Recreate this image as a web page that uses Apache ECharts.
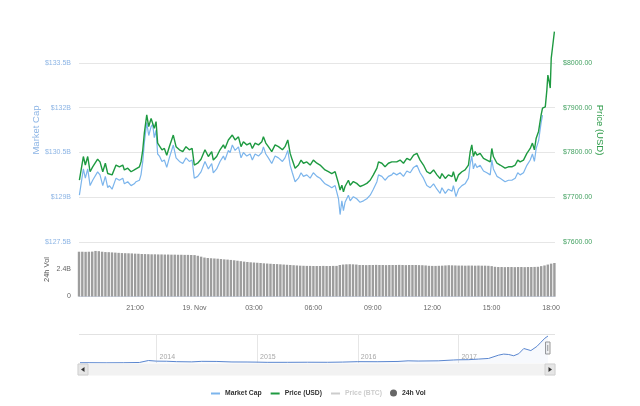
<!DOCTYPE html>
<html><head><meta charset="utf-8">
<script src="https://cdn.jsdelivr.net/npm/echarts@6/dist/echarts.min.js"></script>
<style>html,body{margin:0;padding:0;background:#fff;}#c{width:640px;height:406px;}</style>
</head><body><div id="c"></div>
<script>
// Hours since 18 Nov 00:00 (so 24 = 19 Nov 00:00)
const priceHours = [
18.19,18.39,18.49,18.61,18.73,18.86,18.94,19.11,19.23,19.37,
19.50,19.62,19.70,19.84,20.04,20.21,20.38,20.46,20.63,20.80,
20.96,21.05,21.22,21.30,21.39,21.47,21.59,21.69,21.81,21.89,
21.97,22.06,22.14,22.23,22.36,22.48,22.60,22.73,22.93,23.07,
23.24,23.41,23.57,23.74,23.88,23.99,24.16,24.33,24.53,24.70,
24.87,24.95,25.12,25.29,25.46,25.54,25.71,25.80,25.91,26.05,
26.22,26.35,26.47,26.64,26.81,26.92,27.06,27.23,27.40,27.48,
27.60,27.73,27.90,28.07,28.24,28.44,28.57,28.71,28.83,28.94,
29.08,29.25,29.38,29.50,29.67,29.84,30.00,30.18,30.34,30.43,
30.59,30.76,30.93,31.10,31.19,31.27,31.35,31.44,31.52,31.60,
31.77,31.86,32.02,32.19,32.36,32.53,32.70,32.87,33.03,33.21,
33.29,33.46,33.62,33.79,33.96,34.04,34.21,34.38,34.55,34.72,
34.89,35.06,35.23,35.39,35.56,35.73,35.90,36.07,36.24,36.40,
36.49,36.66,36.82,37.00,37.07,37.20,37.33,37.50,37.66,37.83,
37.92,38.00,38.08,38.17,38.26,38.42,38.59,38.76,38.93,39.01,
39.09,39.27,39.43,39.68,39.85,40.02,40.19,40.32,40.44,40.61,
40.78,40.95,41.06,41.16,41.25,41.37,41.50,41.57,41.71,41.79,
41.84,41.91,41.96,42.01,42.07,42.12,42.17];

const priceUSD = [
7738,7791,7772,7791,7757,7768,7765,7785,7779,7757,
7776,7753,7757,7750,7772,7768,7772,7761,7765,7757,
7761,7765,7768,7779,7806,7844,7884,7858,7876,7880,
7854,7869,7821,7817,7806,7809,7794,7813,7839,7813,
7806,7802,7813,7806,7809,7772,7776,7785,7806,7791,
7802,7783,7791,7806,7817,7809,7828,7824,7839,7828,
7835,7813,7824,7817,7821,7809,7821,7817,7824,7835,
7821,7813,7802,7817,7813,7806,7813,7828,7798,7783,
7765,7772,7783,7776,7779,7772,7783,7776,7772,7768,
7761,7757,7753,7757,7761,7731,7716,7727,7712,7724,
7738,7727,7735,7731,7724,7727,7731,7738,7750,7765,
7779,7776,7768,7776,7779,7783,7779,7783,7776,7787,
7783,7794,7798,7783,7772,7757,7753,7761,7750,7742,
7753,7742,7750,7746,7757,7735,7750,7757,7761,7772,
7802,7817,7791,7802,7794,7798,7787,7783,7779,7809,
7791,7776,7772,7765,7768,7768,7772,7783,7779,7783,
7798,7809,7821,7806,7832,7847,7884,7899,7902,7940,
7973,7958,7944,8011,8033,8029,8070];

// Market cap (billions USD), same timestamps as the first 168 price points
const capBillions = [
129.07,129.95,129.64,129.95,129.39,129.57,129.52,129.85,129.75,129.39,
129.70,129.32,129.39,129.27,129.64,129.57,129.64,129.45,129.52,129.39,
129.45,129.52,129.57,129.75,130.20,130.84,131.50,131.07,131.37,131.44,
131.00,131.25,130.45,130.38,130.20,130.25,130.00,130.32,130.75,130.32,
130.20,130.13,130.32,130.20,130.25,129.64,129.70,129.85,130.20,129.95,
130.13,129.82,129.95,130.20,130.38,130.25,130.57,130.50,130.75,130.57,
130.69,130.32,130.50,130.38,130.45,130.25,130.45,130.38,130.50,130.69,
130.45,130.32,130.13,130.38,130.32,130.20,130.32,130.57,130.07,129.82,
129.52,129.64,129.82,129.70,129.75,129.64,129.82,129.70,129.64,129.57,
129.45,129.39,129.32,129.39,129.45,128.95,128.42,128.88,128.55,128.83,
129.07,128.88,129.02,128.95,128.83,128.88,128.95,129.07,129.27,129.52,
129.75,129.70,129.57,129.70,129.75,129.82,129.75,129.82,129.70,129.88,
129.82,130.00,130.07,129.82,129.64,129.39,129.32,129.45,129.27,129.13,
129.32,129.13,129.27,129.20,129.39,129.02,129.27,129.39,129.45,129.64,
130.13,130.38,129.95,130.13,130.00,130.07,129.88,129.82,129.75,130.25,
129.95,129.70,129.64,129.52,129.57,129.57,129.64,129.82,129.75,129.82,
130.07,130.25,130.45,130.20,130.64,130.89,131.50,131.75];

// 24h volume (billions USD), one bar every 10 minutes
const volStartHour = 18.17;
const volStepHours = 1 / 6;
const volBillions = [
3.98,3.98,3.97,3.98,3.99,4.05,
4.03,3.98,3.95,3.94,3.92,3.90,3.88,3.86,3.85,
3.84,3.83,3.81,3.80,3.78,3.77,3.76,
3.75,3.75,3.74,3.74,3.73,3.73,3.72,3.72,3.71,3.71,3.70,3.70,3.69,3.68,
3.62,3.54,3.46,
3.42,3.40,3.38,3.36,3.33,3.30,3.28,3.25,
3.22,3.18,3.14,3.10,3.07,3.04,
3.02,3.00,2.98,2.95,2.93,2.91,2.89,2.88,2.86,
2.84,2.82,2.80,2.78,2.76,2.74,
2.73,2.72,2.72,2.71,2.71,2.71,2.72,2.71,2.71,2.72,2.72,
2.80,2.84,2.86,2.87,2.86,2.84,
2.80,2.80,2.79,2.80,2.80,2.81,2.80,2.80,2.79,2.80,2.80,2.80,2.81,2.80,2.79,2.80,2.80,2.80,2.79,2.78,2.76,
2.73,2.72,2.72,2.73,2.74,2.76,2.78,2.77,2.76,
2.75,2.75,2.74,2.75,2.75,2.74,2.75,2.74,2.74,2.73,2.70,
2.64,2.62,2.62,2.61,2.62,2.62,2.61,2.62,2.62,2.61,2.62,2.62,2.63,2.64,
2.70,2.76,2.84,2.92,2.98];

// Navigator: market cap history (billions USD) by year
const historyYears = [2013.24,2013.33,2013.5,2013.67,2013.83,2013.92,2014.0,2014.1,2014.2,2014.35,2014.45,2014.6,2014.75,2014.9,2015.0,2015.1,2015.3,2015.5,2015.7,2015.85,2016.0,2016.2,2016.4,2016.5,2016.6,2016.8,2016.95,2017.0,2017.1,2017.2,2017.3,2017.4,2017.45,2017.5,2017.55,2017.6,2017.65,2017.72,2017.78,2017.82,2017.86,2017.87,2017.89];
const historyCapB = [1.4,1.5,1.0,1.4,2.5,12.0,9.0,8.5,6.5,5.5,8.0,7.5,5.0,4.8,4.2,3.2,3.3,3.7,3.4,4.5,6.5,6.2,7.5,10.5,9.5,10.5,14.5,15.5,16.0,19.0,22.0,38.0,43.0,41.0,35.0,45.0,70.0,60.0,80.0,100.0,120.0,112.0,130.0];

const timeTicks = [21,24,27,30,33,36,39,42];
const timeTickLabels = ['21:00','19. Nov','03:00','06:00','09:00','12:00','15:00','18:00'];
const capTicks = [127.5,129,130.5,132,133.5];
const capTickLabels = ['$127.5B','$129B','$130.5B','$132B','$133.5B'];
const priceTicks = [7600,7700,7800,7900,8000];
const priceTickLabels = ['$7600.00','$7700.00','$7800.00','$7900.00','$8000.00'];
const volTicks = [0,2.4];
const volTickLabels = ['0','2.4B'];
const yearTicks = [2014,2015,2016,2017];
const yearTickLabels = ['2014','2015','2016','2017'];

function labelFor(ticks, labels, v) {
  for (let i = 0; i < ticks.length; i++) if (Math.abs(ticks[i] - v) < 1e-6) return labels[i];
  return '';
}

const FONT = '"Liberation Sans", Arial, sans-serif';
const BLUE = '#7cb5ec';
const GREEN = '#1e9a41';
const legendText = {fontSize: 6.8, fontWeight: 'bold', color: '#333', fontFamily: FONT};

const chart = echarts.init(document.getElementById('c'), null, {renderer: 'canvas'});
chart.setOption({
  animation: false,
  backgroundColor: '#ffffff',
  textStyle: {fontFamily: FONT},
  grid: [
    {left: 79, right: 85, top: 30, height: 212},
    {left: 79, right: 85, top: 242.5, height: 54},
    {left: 79, right: 85, top: 334, height: 29}
  ],
  legend: [
    {
      left: 211, top: 390, padding: 0,
      itemGap: 9, itemWidth: 9, itemHeight: 2, icon: 'rect',
      inactiveColor: '#cccccc',
      textStyle: legendText,
      selected: {'Price (BTC)': false},
      data: ['Market Cap', 'Price (USD)', 'Price (BTC)']
    },
    {
      left: 390, top: 389.5, padding: 0,
      itemWidth: 7, itemHeight: 7, icon: 'circle',
      textStyle: legendText,
      data: [{name: '24h Vol', itemStyle: {color: '#666666'}}]
    }
  ],
  xAxis: [
    {gridIndex: 0, type: 'value', min: 18.17, max: 42.2, show: false},
    {gridIndex: 1, type: 'value', min: 18.17, max: 42.2,
      axisLine: {show: true, onZero: false, lineStyle: {color: '#d0d8e8'}},
      axisTick: {show: false, customValues: timeTicks},
      axisLabel: {customValues: timeTicks, fontSize: 7, color: '#666', margin: 8, fontFamily: FONT,
        formatter: v => labelFor(timeTicks, timeTickLabels, v)},
      splitLine: {show: false}},
    {gridIndex: 2, type: 'value', min: 2013.23, max: 2017.96,
      axisLine: {show: false},
      axisTick: {show: false, customValues: yearTicks},
      axisLabel: {customValues: yearTicks, inside: true, align: 'left', margin: 2, padding: [0, 0, 0, 3],
        fontSize: 7, color: '#a8a8a8', fontFamily: FONT,
        formatter: v => labelFor(yearTicks, yearTickLabels, v)},
      splitLine: {show: true, lineStyle: {color: '#e6e6e6'}}}
  ],
  yAxis: [
    {gridIndex: 0, type: 'value', position: 'left', min: 127.5, max: 134.606, interval: 1.5,
      name: 'Market Cap', nameLocation: 'middle', nameGap: 38, nameRotate: 90, nameMoveOverlap: false,
      nameTextStyle: {color: '#8db5e5', fontSize: 9.5, fontFamily: FONT, padding: [0, 0, 0, 12]},
      axisLine: {show: false}, axisTick: {show: false},
      axisLabel: {color: '#8db5e5', fontSize: 7, margin: 8, showMaxLabel: false, padding: [0, 0, 9, 0], fontFamily: FONT,
        formatter: v => labelFor(capTicks, capTickLabels, v)},
      splitLine: {show: true, showMaxLine: false, lineStyle: {color: '#e6e6e6'}}},
    {gridIndex: 0, type: 'value', position: 'right', min: 7600, max: 8073.7, interval: 100,
      name: 'Price (USD)', nameLocation: 'middle', nameGap: 40, nameRotate: -90, nameMoveOverlap: false,
      nameTextStyle: {color: '#2e9b4a', fontSize: 9.5, fontFamily: FONT, padding: [0, 12, 0, 0]},
      axisLine: {show: false}, axisTick: {show: false},
      axisLabel: {color: '#44a262', fontSize: 7, margin: 8, showMaxLabel: false, padding: [0, 0, 9, 0], fontFamily: FONT,
        formatter: v => labelFor(priceTicks, priceTickLabels, v)},
      splitLine: {show: false}},
    {gridIndex: 1, type: 'value', position: 'left', min: 0, max: 4.8, interval: 2.4,
      name: '24h Vol', nameLocation: 'middle', nameGap: 28, nameRotate: 90, nameMoveOverlap: false,
      nameTextStyle: {color: '#555', fontSize: 7.5, fontFamily: FONT},
      axisLine: {show: false}, axisTick: {show: false},
      axisLabel: {color: '#666', fontSize: 7, margin: 8, showMaxLabel: false, padding: [0, 0, 9, 0], fontFamily: FONT,
        formatter: v => labelFor(volTicks, volTickLabels, v)},
      splitLine: {show: false}},
    {gridIndex: 2, type: 'value', min: 0, max: 140, interval: 140,
      axisLine: {show: false}, axisTick: {show: false}, axisLabel: {show: false},
      splitLine: {show: true, showMinLine: false, lineStyle: {color: '#e2e2e2'}}}
  ],
  series: [
    {name: 'Market Cap', type: 'line', xAxisIndex: 0, yAxisIndex: 0, symbol: 'none', z: 2,
      data: capBillions.map((v, i) => [priceHours[i], v]),
      lineStyle: {color: BLUE, width: 1.2}, itemStyle: {color: BLUE}},
    {name: 'Price (USD)', type: 'line', xAxisIndex: 0, yAxisIndex: 1, symbol: 'none', z: 3,
      data: priceUSD.map((v, i) => [priceHours[i], v]),
      lineStyle: {color: GREEN, width: 1.4}, itemStyle: {color: GREEN}},
    {name: 'Price (BTC)', type: 'line', xAxisIndex: 0, yAxisIndex: 1, symbol: 'none', data: [],
      lineStyle: {color: '#bbbbbb', width: 1.4}, itemStyle: {color: '#bbbbbb'}},
    {name: '24h Vol', type: 'bar', xAxisIndex: 1, yAxisIndex: 2, barWidth: 2.4,
      data: volBillions.map((v, k) => [volStartHour + k * volStepHours, v]),
      itemStyle: {color: '#9d9d9d'}},
    {name: 'History', type: 'line', xAxisIndex: 2, yAxisIndex: 3, symbol: 'none', silent: true,
      data: historyCapB.map((v, i) => [historyYears[i], v]),
      lineStyle: {color: '#5a86cf', width: 1}, areaStyle: {color: 'rgba(90,134,207,0.07)'}}
  ],
  graphic: [
    {type: 'rect', shape: {x: 78, y: 364, width: 477, height: 11}, style: {fill: '#f2f2f2', stroke: '#f2f2f2'}, silent: true},
    {type: 'rect', shape: {x: 78, y: 364, width: 10, height: 11}, style: {fill: '#e6e6e6', stroke: '#d0d0d0'}, silent: true},
    {type: 'polygon', shape: {points: [[84.5, 367], [84.5, 372], [81, 369.5]]}, style: {fill: '#333'}, silent: true},
    {type: 'rect', shape: {x: 545, y: 364, width: 10, height: 11}, style: {fill: '#e6e6e6', stroke: '#d0d0d0'}, silent: true},
    {type: 'polygon', shape: {points: [[548.5, 367], [548.5, 372], [552, 369.5]]}, style: {fill: '#333'}, silent: true},
    {type: 'rect', shape: {x: 545.5, y: 342, width: 4.5, height: 12}, style: {fill: '#f2f2f2', stroke: '#999'}, silent: true},
    {type: 'line', shape: {x1: 547.75, y1: 345, x2: 547.75, y2: 351}, style: {stroke: '#999', lineWidth: 1}, silent: true}
  ]
});
</script>
</body></html>
